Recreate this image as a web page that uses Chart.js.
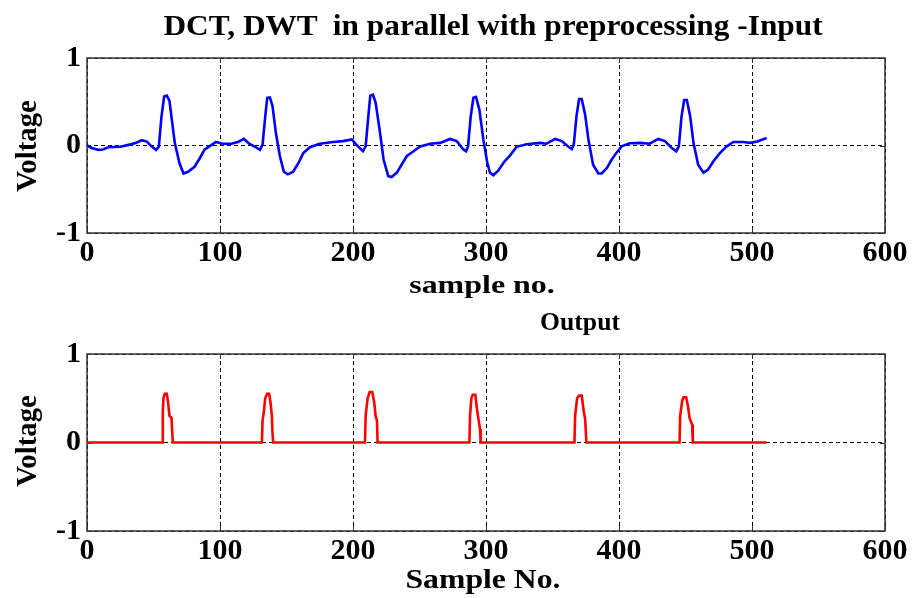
<!DOCTYPE html>
<html>
<head>
<meta charset="utf-8">
<script src="https://cdn.jsdelivr.net/npm/chart.js@4.4.1/dist/chart.umd.min.js"></script>
<style>
  html, body { margin: 0; padding: 0; background: #fff; overflow: hidden; }
  #wrap { position: relative; width: 916px; height: 598px; }
  canvas { position: absolute; left: 0; }
  .lbl {
    position: absolute; white-space: pre; line-height: 1;
    font-family: "Liberation Serif", "Times New Roman", serif; font-weight: bold; color: #000;
  }
</style>
</head>
<body>
<div id="wrap">
  <canvas id="topChart" width="916" height="270" style="top:0px;width:916px;height:270px"></canvas>
  <canvas id="botChart" width="916" height="270" style="top:296px;width:916px;height:270px"></canvas>
</div>
<script>
// x ticks / y ticks
const xTicks = [0, 100, 200, 300, 400, 500, 600];
const yTicks = [-1, 0, 1];

// input ECG: sample no. and voltage
const inputSample = [
  0, 3.5, 8.5, 12, 16, 25, 32, 37, 41, 45, 48.5, 52, 54, 56, 58, 60, 62, 63.5, 66, 69.5,
  72.5, 76, 81, 85, 88.5, 92, 97, 102, 108.5, 113.5, 118, 122, 127, 130, 132, 134, 135.5, 137.5, 139.5, 142,
  145, 148, 151, 155, 159, 162.5, 167.5, 175, 185, 192.5, 199, 202.5, 207.5, 209.5, 211.5, 213, 215, 217, 220, 223,
  226.5, 229, 233, 236.5, 240.5, 245.5, 250.5, 258, 265.5, 273, 278, 283, 285, 286.5, 288.5, 290.5, 292.5, 295, 298, 301,
  303, 305.5, 309, 314, 318, 323, 330.5, 340.5, 345.5, 352, 357, 362, 364.5, 366, 368, 370, 372, 374.5, 377, 380.5,
  384.5, 387, 391, 394.5, 398, 402, 408, 416, 423, 429.5, 434.5, 439.5, 443, 445, 447, 449, 451, 453.5, 456, 459.5,
  463.5, 467, 471, 476, 481, 486, 493.5, 498.5, 504, 509, 511
];
const inputVoltage = [
  0, -0.03, -0.05, -0.045, -0.02, -0.015, 0.01, 0.03, 0.06, 0.045, -0.01, -0.05, -0.015, 0.33, 0.56, 0.57, 0.51, 0.33, 0.03, -0.2,
  -0.32, -0.3, -0.24, -0.14, -0.045, -0.01, 0.04, 0.02, 0.02, 0.04, 0.075, 0.02, -0.02, -0.05, 0.01, 0.33, 0.545, 0.55, 0.45, 0.145,
  -0.12, -0.3, -0.33, -0.3, -0.2, -0.09, -0.02, 0.02, 0.04, 0.05, 0.07, 0.01, -0.065, -0.01, 0.33, 0.57, 0.58, 0.49, 0.18, -0.16,
  -0.35, -0.36, -0.31, -0.22, -0.12, -0.065, -0.01, 0.02, 0.03, 0.075, 0.05, -0.045, -0.065, -0.01, 0.33, 0.545, 0.555, 0.41, 0.07, -0.2,
  -0.31, -0.34, -0.29, -0.18, -0.115, -0.015, 0.015, 0.03, 0.02, 0.075, 0.05, -0.015, -0.04, 0.01, 0.33, 0.53, 0.53, 0.355, 0.07, -0.22,
  -0.32, -0.32, -0.255, -0.16, -0.085, -0.01, 0.025, 0.03, 0.02, 0.075, 0.05, -0.025, -0.065, -0.01, 0.33, 0.52, 0.52, 0.335, 0.03, -0.22,
  -0.31, -0.275, -0.18, -0.085, -0.01, 0.04, 0.04, 0.03, 0.045, 0.075, 0.085
];

// detected output pulses (bottom panel)
const outputSample = [
  0, 56.5, 57, 57.5, 58.5, 60, 61, 62, 63.5, 64.5,
  131.5, 132, 133, 134, 135.5, 137, 138, 139, 139.5, 140,
  209, 209.5, 211, 212.5, 214.5, 216, 217, 218, 218.5,
  287.5, 288, 289, 290, 292, 293, 294, 295.5, 296,
  366.5, 367, 368.5, 370, 372, 373.5, 374.5, 375.5,
  445.5, 446, 447.5, 448.5, 450.5, 452, 453, 455, 455.5, 511
];
const outputVoltage = [
  0, 0, 0.35, 0.5, 0.55, 0.55, 0.45, 0.3, 0.28, 0,
  0, 0.25, 0.35, 0.5, 0.55, 0.55, 0.45, 0.3, 0.1, 0,
  0, 0.3, 0.5, 0.57, 0.57, 0.45, 0.3, 0.25, 0,
  0, 0.3, 0.5, 0.54, 0.54, 0.4, 0.3, 0.15, 0,
  0, 0.3, 0.5, 0.53, 0.53, 0.35, 0.27, 0,
  0, 0.3, 0.47, 0.51, 0.51, 0.4, 0.28, 0.2, 0, 0
];

const toPoints = (xs, ys) => xs.map((x, i) => ({ x, y: ys[i] }));

// MATLAB style box with inward tick marks
const framePlugin = {
  id: 'frame',
  beforeDatasetsDraw(chart) {
    const { ctx, chartArea: a, scales } = chart;
    ctx.save();
    ctx.strokeStyle = '#333';
    ctx.lineWidth = 1.5;
    ctx.setLineDash([]);
    ctx.strokeRect(a.left, a.top, a.right - a.left, a.bottom - a.top);
    ctx.lineWidth = 1;
    ctx.beginPath();
    xTicks.forEach(v => {
      const px = Math.round(scales.x.getPixelForValue(v)) + 0.5;
      ctx.moveTo(px, a.bottom); ctx.lineTo(px, a.bottom - 5);
      ctx.moveTo(px, a.top); ctx.lineTo(px, a.top + 5);
    });
    yTicks.forEach(v => {
      const py = Math.round(scales.y.getPixelForValue(v)) + 0.5;
      ctx.moveTo(a.left, py); ctx.lineTo(a.left + 5, py);
      ctx.moveTo(a.right, py); ctx.lineTo(a.right - 5, py);
    });
    ctx.stroke();
    ctx.restore();
  }
};

const tickFont = { family: '"Liberation Serif", "Times New Roman", serif', size: 30, weight: 'bold' };

function makeChart(id, points, color, xHeight) {
  return new Chart(document.getElementById(id), {
    type: 'line',
    data: {
      datasets: [{
        data: points,
        borderColor: color,
        borderWidth: 2.6,
        pointRadius: 0,
        tension: 0,
        fill: false,
      }],
    },
    options: {
      responsive: false,
      animation: false,
      events: [],
      layout: { padding: { top: 58, right: 31, bottom: 0, left: 0 } },
      plugins: { legend: { display: false }, tooltip: { enabled: false } },
      scales: {
        x: {
          type: 'linear', min: 0, max: 600,
          afterFit: s => { s.height = xHeight; },
          afterBuildTicks: s => { s.ticks = xTicks.map(v => ({ value: v })); },
          grid: { color: '#000', lineWidth: 1, drawTicks: false },
          border: { display: false, dash: [4, 3] },
          ticks: { color: '#000', font: tickFont, padding: 2, maxRotation: 0 },
        },
        y: {
          type: 'linear', min: -1, max: 1,
          afterFit: s => { s.width = 87; },
          afterBuildTicks: s => { s.ticks = yTicks.map(v => ({ value: v })); },
          grid: { color: '#000', lineWidth: 1, drawTicks: false },
          border: { display: false, dash: [4, 3] },
          ticks: { color: '#000', font: tickFont, padding: 6 },
        },
      },
    },
    plugins: [framePlugin],
  });
}

makeChart('topChart', toPoints(inputSample, inputVoltage), '#0000ff', 37);
makeChart('botChart', toPoints(outputSample, outputVoltage), '#ff0000', 35);

// titles and axis labels: [text, centre x, baseline y, font size, target width, rotated]
const labels = [
  ['DCT, DWT  in parallel with preprocessing -Input', 492.5, 35, 30, 659, false],
  ['sample no.', 482, 294, 26, 145, false],
  ['Output', 580, 331, 26, 80, false],
  ['Sample No.', 482.5, 589, 27, 155, false],
  ['Voltage', 36, 146, 30, 92, true],
  ['Voltage', 36, 441, 30, 92, true],
];
const wrap = document.getElementById('wrap');
labels.forEach(([text, cx, base, fs, w, rot]) => {
  const d = document.createElement('div');
  d.className = 'lbl';
  d.textContent = text;
  d.style.fontSize = fs + 'px';
  wrap.appendChild(d);
  const k = w / d.offsetWidth;
  if (rot) {
    // baseline sits on the right, glyph tops point left
    const mid = cx - 0.3375 * fs;
    d.style.left = mid + 'px';
    d.style.top = base + 'px';
    d.style.transform = `translate(-50%, -50%) rotate(-90deg) scaleX(${k})`;
  } else {
    d.style.left = cx + 'px';
    d.style.top = (base - 0.8375 * fs) + 'px';
    d.style.transform = `translateX(-50%) scaleX(${k})`;
  }
});
</script>
</body>
</html>
